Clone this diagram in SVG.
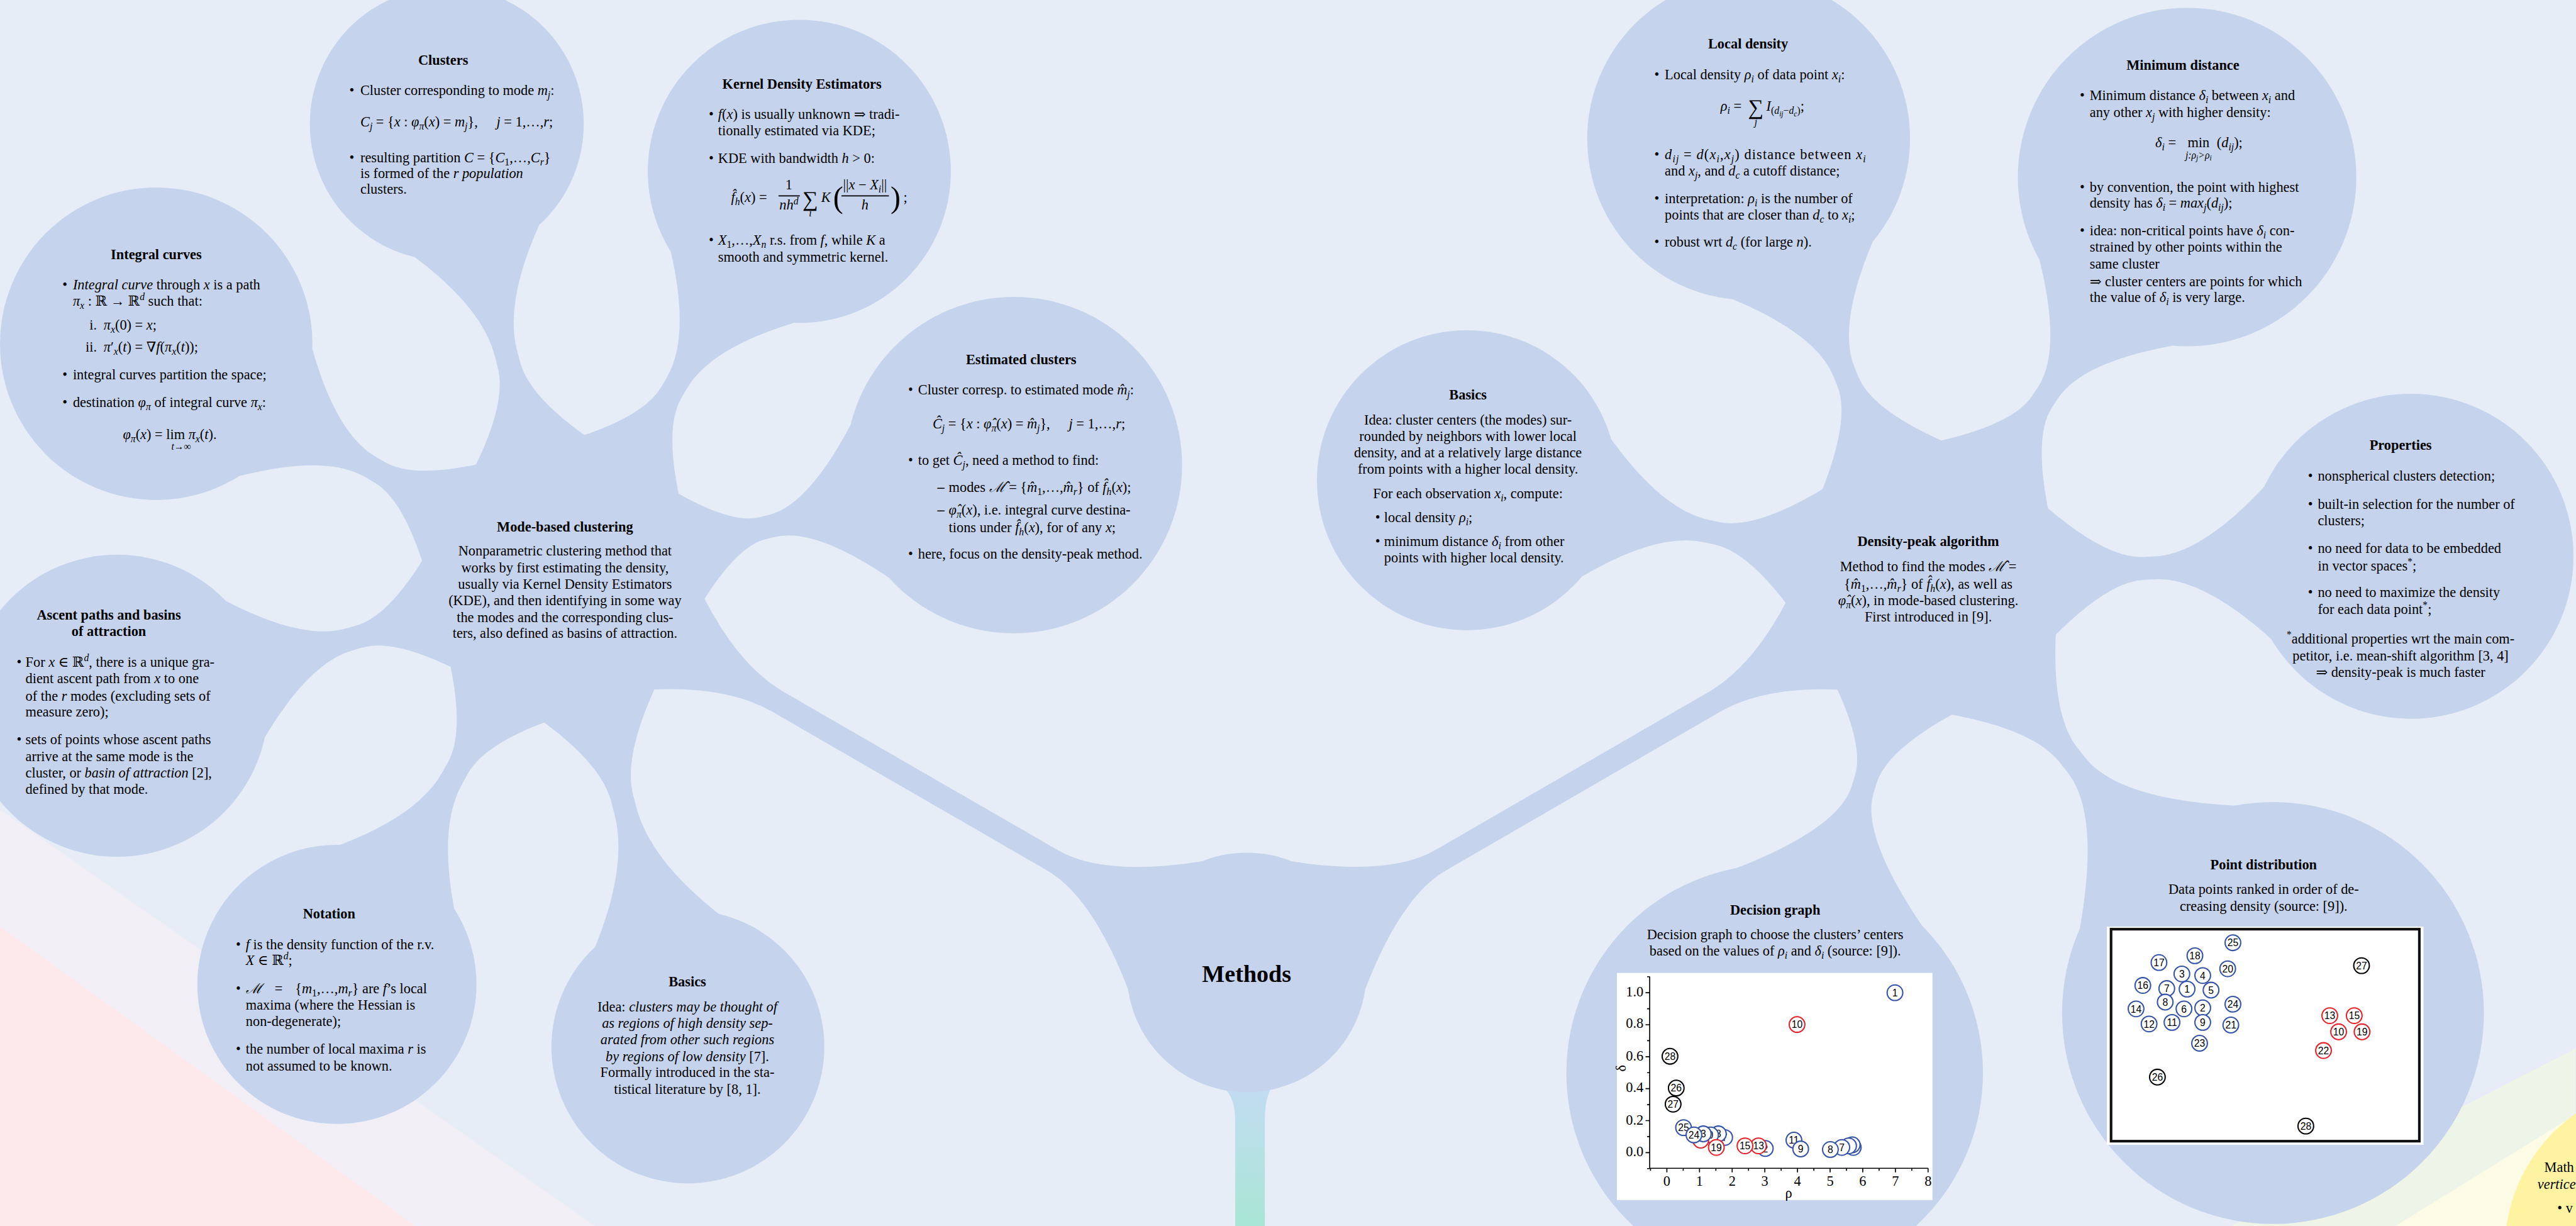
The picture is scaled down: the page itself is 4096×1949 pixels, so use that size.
<svg xmlns="http://www.w3.org/2000/svg" width="4096" height="1949" viewBox="0 0 4096 1949">
<defs>
<style>
.bg{fill:#e6edf7}
.nd{fill:#c5d4ec}
.cn{fill:#c5d4ec}
text{font-family:"Liberation Serif","DejaVu Serif",serif;font-size:27px;fill:#000}
.ttl{font-weight:bold}
.c{text-anchor:middle}
.e{text-anchor:end}
.i{font-style:italic}
.s{font-size:19px}
.ss{font-size:14px}
.ax{stroke:#000;stroke-width:2;fill:none}
.pb{fill:#fff;stroke:#3553a8;stroke-width:2.5}
.pr{fill:#fff;stroke:#e8202a;stroke-width:2.5}
.pk{fill:#fff;stroke:#000;stroke-width:2.5}
.nb{font-family:"Liberation Sans",Arial,sans-serif;font-size:19px;text-anchor:middle}
.tl{font-family:"Liberation Sans",Arial,sans-serif;font-size:20px}
</style>
<linearGradient id="stalk" x1="0" y1="0" x2="0" y2="1">
<stop offset="0" stop-color="#c3dbf2"/>
<stop offset="1" stop-color="#a9e6d5"/>
</linearGradient>
</defs>
<rect class="bg" x="0" y="0" width="4096" height="1949"/>
<g transform="scale(0.828)">
<g id="regions">
<polygon points="0,1554 1143,2354 0,2354" fill="#f1eef6"/>
<polygon points="0,1779 798,2354 0,2354" fill="#fde9ec"/>
<polygon points="4284,2354 4946,2013 4946,2354" fill="#eef4e8"/>
<polygon points="4600,2354 4946,2140 4946,2354" fill="#fcfbe6"/>
</g>
<g id="connectors">
<path class="cn" transform="translate(1083,1110) rotate(-104.47)" d="M200.9,157.1 Q339.2,22 423.4,22 L446.2,22 Q541.9,22 668.4,123.3 L668.4,-123.3 Q541.9,-22 446.2,-22 L423.4,-22 Q339.2,-22 200.9,-157.1Z"/>
<path class="cn" transform="translate(1083,1110) rotate(-59.94)" d="M200.9,157.1 Q333.4,22 411.8,22 L433.2,22 Q522.3,22 645.4,136.5 L645.4,-136.5 Q522.3,-22 433.2,-22 L411.8,-22 Q333.4,-22 200.9,-157.1Z"/>
<path class="cn" transform="translate(1083,1110) rotate(-150.12)" d="M200.9,157.1 Q331.6,22 408.2,22 L429.1,22 Q516.1,22 638.2,140.7 L638.2,-140.7 Q516.1,-22 429.1,-22 L408.2,-22 Q331.6,-22 200.9,-157.1Z"/>
<path class="cn" transform="translate(1083,1110) rotate(164.06)" d="M200.9,157.1 Q331.4,22 407.8,22 L428.7,22 Q515.5,22 636.2,136 L636.2,-136 Q515.5,-22 428.7,-22 L407.8,-22 Q331.4,-22 200.9,-157.1Z"/>
<path class="cn" transform="translate(1083,1110) rotate(119.2)" d="M200.9,157.1 Q336.5,22 418,22 L440.2,22 Q532.9,22 657,125.7 L657,-125.7 Q532.9,-22 440.2,-22 L418,-22 Q336.5,-22 200.9,-157.1Z"/>
<path class="cn" transform="translate(1083,1110) rotate(75.19)" d="M200.9,157.1 Q346.1,22 437.2,22 L461.9,22 Q565.4,22 699.6,122.9 L699.6,-122.9 Q565.4,-22 461.9,-22 L437.2,-22 Q346.1,-22 200.9,-157.1Z"/>
<path class="cn" transform="translate(1083,1110) rotate(-14.1)" d="M200.9,157.1 Q323.8,22 392.6,22 L411.4,22 Q489.6,22 605.6,151.5 L605.6,-151.5 Q489.6,-22 411.4,-22 L392.6,-22 Q323.8,-22 200.9,-157.1Z"/>
<path class="cn" transform="translate(2394,1867) rotate(-150)" d="M181.2,141.7 Q330,22 430,22 L1038.9,22 Q1148.9,22 1288.7,119.6 L1288.7,-119.6 Q1148.9,-22 1038.9,-22 L430,-22 Q330,-22 181.2,-141.7Z"/>
<path class="cn" transform="translate(2394,1867) rotate(-30.04)" d="M181.2,141.7 Q330,22 430,22 L1037.1,22 Q1147.1,22 1286.9,119.6 L1286.9,-119.6 Q1147.1,-22 1037.1,-22 L430,-22 Q330,-22 181.2,-141.7Z"/>
<path class="cn" transform="translate(3703,1110) rotate(-168.02)" d="M200.9,157.1 Q334.8,22 414.6,22 L436.3,22 Q527,22 651.4,135.1 L651.4,-135.1 Q527,-22 436.3,-22 L414.6,-22 Q334.8,-22 200.9,-157.1Z"/>
<path class="cn" transform="translate(3703,1110) rotate(-112.23)" d="M200.9,157.1 Q331.3,22 407.6,22 L428.4,22 Q515.1,22 638.1,145.4 L638.1,-145.4 Q515.1,-22 428.4,-22 L407.6,-22 Q331.3,-22 200.9,-157.1Z"/>
<path class="cn" transform="translate(3703,1110) rotate(-57.16)" d="M200.9,157.1 Q329,22 403,22 L423.3,22 Q507.4,22 629.5,152.4 L629.5,-152.4 Q507.4,-22 423.3,-22 L403,-22 Q329,-22 200.9,-157.1Z"/>
<path class="cn" transform="translate(3703,1110) rotate(-2.59)" d="M200.9,157.1 Q334.4,22 413.8,22 L435.4,22 Q525.7,22 652.5,146.3 L652.5,-146.3 Q525.7,-22 435.4,-22 L413.8,-22 Q334.4,-22 200.9,-157.1Z"/>
<path class="cn" transform="translate(3703,1110) rotate(51.59)" d="M200.9,157.1 Q344.2,22 433.4,22 L457.8,22 Q559.2,22 708,190 L708,-190 Q559.2,-22 457.8,-22 L433.4,-22 Q344.2,-22 200.9,-157.1Z"/>
<path class="cn" transform="translate(3703,1110) rotate(107.25)" d="M200.9,157.1 Q329.8,22 404.6,22 L424.8,22 Q509.8,22 641.6,187.6 L641.6,-187.6 Q509.8,-22 424.8,-22 L404.6,-22 Q329.8,-22 200.9,-157.1Z"/>
<path fill="url(#stalk)" d="M2372,2354 L2372,2150 Q2372,2100 2340,2080 L2448,2080 Q2429,2100 2429,2150 L2429,2354Z"/>
</g>

<g id="n-methods">
<circle class="nd" cx="2394" cy="1867" r="230"/>
<text class="c ttl" x="2394" y="1885" style="font-size:46px">Methods</text>
</g>

<g id="n-mode-based">
<circle class="nd" cx="1083" cy="1110" r="255"/>
<text class="ttl c" x="1085" y="1020">Mode-based clustering</text>
<text class="c" x="1085" y="1067">Nonparametric clustering method that</text>
<text class="c" x="1085" y="1099">works by first estimating the density,</text>
<text class="c" x="1085" y="1130">usually via Kernel Density Estimators</text>
<text class="c" x="1085" y="1162">(KDE), and then identifying in some way</text>
<text class="c" x="1085" y="1194">the modes and the corresponding clus-</text>
<text class="c" x="1085" y="1225">ters, also defined as basins of attraction.</text>
</g>

<g id="n-clusters">
<circle class="nd" cx="858" cy="238" r="263"/>
<text class="ttl c" x="851" y="124">Clusters</text>
<text x="671" y="182">•</text>
<text x="692" y="182">Cluster corresponding to mode <tspan class="i">m</tspan><tspan class="s i" dy="6">j</tspan><tspan dy="-6">:</tspan></text>
<text x="692" y="243"><tspan class="i">C</tspan><tspan class="s i" dy="6">j</tspan><tspan dy="-6"> = {</tspan><tspan class="i">x</tspan> : <tspan class="i">φ</tspan><tspan class="s i" dy="6">π</tspan><tspan dy="-6">(</tspan><tspan class="i">x</tspan>) = <tspan class="i">m</tspan><tspan class="s i" dy="6">j</tspan><tspan dy="-6">},</tspan><tspan dx="36" class="i">j</tspan> = 1,…,<tspan class="i">r</tspan>;</text>
<text x="671" y="312">•</text>
<text x="692" y="312">resulting partition <tspan class="i">C</tspan> = {<tspan class="i">C</tspan><tspan class="s" dy="6">1</tspan><tspan dy="-6">,…,</tspan><tspan class="i">C</tspan><tspan class="s i" dy="6">r</tspan><tspan dy="-6">}</tspan></text>
<text x="692" y="342">is formed of the <tspan class="i">r population</tspan></text>
<text x="692" y="372">clusters.</text>
</g>

<g id="n-kde">
<circle class="nd" cx="1535" cy="329" r="291"/>
<text class="ttl c" x="1540" y="170">Kernel Density Estimators</text>
<text x="1361" y="228">•</text>
<text x="1379" y="228"><tspan class="i">f</tspan>(<tspan class="i">x</tspan>) is usually unknown ⇒ tradi-</text>
<text x="1379" y="260">tionally estimated via KDE;</text>
<text x="1361" y="313">•</text>
<text x="1379" y="313">KDE with bandwidth <tspan class="i">h</tspan> &gt; 0:</text>
<text x="1404" y="388"><tspan class="i">f̂</tspan><tspan class="s i" dy="6">h</tspan><tspan dy="-6">(</tspan><tspan class="i">x</tspan>) =</text>
<text class="c" x="1515" y="364">1</text>
<path class="ax" d="M1495,376 H1536"/>
<text class="c" x="1515" y="402"><tspan class="i">nh</tspan><tspan class="s i" dy="-10">d</tspan></text>
<text class="c" x="1556" y="396" style="font-size:42px">∑</text>
<text class="c i s" x="1556" y="416">i</text>
<text class="i" x="1577" y="388">K</text>
<text x="1600" y="398" style="font-size:58px">(</text>
<text class="c" x="1661" y="364">||<tspan class="i">x</tspan> − <tspan class="i">X</tspan><tspan class="s i" dy="6">i</tspan><tspan dy="-6">||</tspan></text>
<path class="ax" d="M1616,376 H1707"/>
<text class="c i" x="1661" y="402">h</text>
<text x="1710" y="398" style="font-size:58px">)</text>
<text x="1735" y="388">;</text>
<text x="1361" y="470">•</text>
<text x="1379" y="470"><tspan class="i">X</tspan><tspan class="s" dy="6">1</tspan><tspan dy="-6">,…,</tspan><tspan class="i">X</tspan><tspan class="s i" dy="6">n</tspan><tspan dy="-6"> r.s. from </tspan><tspan class="i">f</tspan>, while <tspan class="i">K</tspan> a</text>
<text x="1379" y="502">smooth and symmetric kernel.</text>
</g>

<g id="n-integral">
<circle class="nd" cx="300" cy="660" r="300"/>
<text class="ttl c" x="300" y="497">Integral curves</text>
<text x="120" y="555">•</text>
<text x="140" y="555"><tspan class="i">Integral curve</tspan> through <tspan class="i">x</tspan> is a path</text>
<text x="140" y="587"><tspan class="i">π</tspan><tspan class="s i" dy="6">x</tspan><tspan dy="-6"> : ℝ → ℝ</tspan><tspan class="s i" dy="-11">d</tspan><tspan dy="11"> such that:</tspan></text>
<text class="e" x="186" y="633">i.</text>
<text x="199" y="633"><tspan class="i">π</tspan><tspan class="s i" dy="6">x</tspan><tspan dy="-6">(0) = </tspan><tspan class="i">x</tspan>;</text>
<text class="e" x="186" y="675">ii.</text>
<text x="199" y="675"><tspan class="i">π</tspan>′<tspan class="s i" dy="6">x</tspan><tspan dy="-6">(</tspan><tspan class="i">t</tspan>) = ∇<tspan class="i">f</tspan>(<tspan class="i">π</tspan><tspan class="s i" dy="6">x</tspan><tspan dy="-6">(</tspan><tspan class="i">t</tspan>));</text>
<text x="120" y="728">•</text>
<text x="140" y="728">integral curves partition the space;</text>
<text x="120" y="782">•</text>
<text x="140" y="782">destination <tspan class="i">φ</tspan><tspan class="s i" dy="6">π</tspan><tspan dy="-6"> of integral curve </tspan><tspan class="i">π</tspan><tspan class="s i" dy="6">x</tspan><tspan dy="-6">:</tspan></text>
<text x="236" y="843"><tspan class="i">φ</tspan><tspan class="s i" dy="6">π</tspan><tspan dy="-6">(</tspan><tspan class="i">x</tspan>) = lim <tspan class="i">π</tspan><tspan class="s i" dy="6">x</tspan><tspan dy="-6">(</tspan><tspan class="i">t</tspan>).</text>
<text class="c s" x="348" y="864"><tspan class="i">t</tspan>→∞</text>
</g>

<g id="n-ascent">
<circle class="nd" cx="225" cy="1355" r="290"/>
<text class="ttl c" x="209" y="1190">Ascent paths and basins</text>
<text class="ttl c" x="209" y="1221">of attraction</text>
<text x="32" y="1280">•</text>
<text x="49" y="1280">For <tspan class="i">x</tspan> ∈ ℝ<tspan class="s i" dy="-11">d</tspan><tspan dy="11">, there is a unique gra-</tspan></text>
<text x="49" y="1312">dient ascent path from <tspan class="i">x</tspan> to one</text>
<text x="49" y="1345">of the <tspan class="i">r</tspan> modes (excluding sets of</text>
<text x="49" y="1376">measure zero);</text>
<text x="32" y="1429">•</text>
<text x="49" y="1429">sets of points whose ascent paths</text>
<text x="49" y="1461">arrive at the same mode is the</text>
<text x="49" y="1493">cluster, or <tspan class="i">basin of attraction</tspan> [2],</text>
<text x="49" y="1524">defined by that mode.</text>
</g>

<g id="n-notation">
<circle class="nd" cx="647" cy="1890" r="268"/>
<text class="ttl c" x="632" y="1763">Notation</text>
<text x="453" y="1822">•</text>
<text x="472" y="1822"><tspan class="i">f</tspan> is the density function of the r.v.</text>
<text x="472" y="1853"><tspan class="i">X</tspan> ∈ ℝ<tspan class="s i" dy="-11">d</tspan><tspan dy="11">;</tspan></text>
<text x="453" y="1907">•</text>
<text x="472" y="1907"><tspan class="i">ℳ</tspan><tspan dx="24">=</tspan><tspan dx="24">{</tspan><tspan class="i">m</tspan><tspan class="s" dy="6">1</tspan><tspan dy="-6">,…,</tspan><tspan class="i">m</tspan><tspan class="s i" dy="6">r</tspan><tspan dy="-6">} are </tspan><tspan class="i">f</tspan>’s local</text>
<text x="472" y="1938">maxima (where the Hessian is</text>
<text x="472" y="1970">non-degenerate);</text>
<text x="453" y="2023">•</text>
<text x="472" y="2023">the number of local maxima <tspan class="i">r</tspan> is</text>
<text x="472" y="2055">not assumed to be known.</text>
</g>

<g id="n-basics-left">
<circle class="nd" cx="1321" cy="2010" r="262"/>
<text class="ttl c" x="1320" y="1894">Basics</text>
<text class="c" x="1320" y="1942">Idea: <tspan class="i">clusters may be thought of</tspan></text>
<text class="c i" x="1320" y="1973">as regions of high density sep-</text>
<text class="c i" x="1320" y="2005">arated from other such regions</text>
<text class="c" x="1320" y="2037"><tspan class="i">by regions of low density</tspan> [7].</text>
<text class="c" x="1320" y="2068">Formally introduced in the sta-</text>
<text class="c" x="1320" y="2100">tistical literature by [8, 1].</text>
</g>

<g id="n-estimated">
<circle class="nd" cx="1947" cy="893" r="323"/>
<text class="ttl c" x="1961" y="699">Estimated clusters</text>
<text x="1744" y="757">•</text>
<text x="1763" y="757">Cluster corresp. to estimated mode <tspan class="i">m̂</tspan><tspan class="s i" dy="6">j</tspan><tspan dy="-6">:</tspan></text>
<text x="1791" y="822"><tspan class="i">Ĉ</tspan><tspan class="s i" dy="6">j</tspan><tspan dy="-6"> = {</tspan><tspan class="i">x</tspan> : <tspan class="i">φ̂</tspan><tspan class="s i" dy="6">π</tspan><tspan dy="-6">(</tspan><tspan class="i">x</tspan>) = <tspan class="i">m̂</tspan><tspan class="s i" dy="6">j</tspan><tspan dy="-6">},</tspan><tspan dx="36" class="i">j</tspan> = 1,…,<tspan class="i">r</tspan>;</text>
<text x="1744" y="893">•</text>
<text x="1763" y="893">to get <tspan class="i">Ĉ</tspan><tspan class="s i" dy="6">j</tspan><tspan dy="-6">, need a method to find:</tspan></text>
<text x="1800" y="944" class="ttl">–</text>
<text x="1822" y="944">modes <tspan class="i">ℳ̂</tspan> = {<tspan class="i">m̂</tspan><tspan class="s" dy="6">1</tspan><tspan dy="-6">,…,</tspan><tspan class="i">m̂</tspan><tspan class="s i" dy="6">r</tspan><tspan dy="-6">} of </tspan><tspan class="i">f̂</tspan><tspan class="s i" dy="6">h</tspan><tspan dy="-6">(</tspan><tspan class="i">x</tspan>);</text>
<text x="1800" y="988" class="ttl">–</text>
<text x="1822" y="988"><tspan class="i">φ̂</tspan><tspan class="s i" dy="6">π</tspan><tspan dy="-6">(</tspan><tspan class="i">x</tspan>), i.e. integral curve destina-</text>
<text x="1822" y="1022">tions under <tspan class="i">f̂</tspan><tspan class="s i" dy="6">h</tspan><tspan dy="-6">(</tspan><tspan class="i">x</tspan>), for of any <tspan class="i">x</tspan>;</text>
<text x="1744" y="1073">•</text>
<text x="1763" y="1073">here, focus on the density-peak method.</text>
</g>

<g id="n-density-peak">
<circle class="nd" cx="3703" cy="1110" r="255"/>
<text class="ttl c" x="3703" y="1048">Density-peak algorithm</text>
<text class="c" x="3703" y="1097">Method to find the modes <tspan class="i">ℳ̂</tspan> =</text>
<text class="c" x="3703" y="1130">{<tspan class="i">m̂</tspan><tspan class="s" dy="6">1</tspan><tspan dy="-6">,…,</tspan><tspan class="i">m̂</tspan><tspan class="s i" dy="6">r</tspan><tspan dy="-6">} of </tspan><tspan class="i">f̂</tspan><tspan class="s i" dy="6">h</tspan><tspan dy="-6">(</tspan><tspan class="i">x</tspan>), as well as</text>
<text class="c" x="3703" y="1162"><tspan class="i">φ̂</tspan><tspan class="s i" dy="6">π</tspan><tspan dy="-6">(</tspan><tspan class="i">x</tspan>), in mode-based clustering.</text>
<text class="c" x="3703" y="1193">First introduced in [9].</text>
</g>

<g id="n-basics-right">
<circle class="nd" cx="2817" cy="922" r="288"/>
<text class="ttl c" x="2819" y="767">Basics</text>
<text class="c" x="2819" y="815">Idea: cluster centers (the modes) sur-</text>
<text class="c" x="2819" y="847">rounded by neighbors with lower local</text>
<text class="c" x="2819" y="878">density, and at a relatively large distance</text>
<text class="c" x="2819" y="910">from points with a higher local density.</text>
<text class="c" x="2819" y="957">For each observation <tspan class="i">x</tspan><tspan class="s i" dy="6">i</tspan><tspan dy="-6">, compute:</tspan></text>
<text x="2641" y="1003">•</text>
<text x="2658" y="1003">local density <tspan class="i">ρ</tspan><tspan class="s i" dy="6">i</tspan><tspan dy="-6">;</tspan></text>
<text x="2641" y="1048">•</text>
<text x="2658" y="1048">minimum distance <tspan class="i">δ</tspan><tspan class="s i" dy="6">i</tspan><tspan dy="-6"> from other</tspan></text>
<text x="2658" y="1080">points with higher local density.</text>
</g>

<g id="n-local-density">
<circle class="nd" cx="3358" cy="266" r="310"/>
<text class="ttl c" x="3357" y="93">Local density</text>
<text x="3177" y="152">•</text>
<text x="3197" y="152">Local density <tspan class="i">ρ</tspan><tspan class="s i" dy="6">i</tspan><tspan dy="-6"> of data point </tspan><tspan class="i">x</tspan><tspan class="s i" dy="6">i</tspan><tspan dy="-6">:</tspan></text>
<text x="3304" y="212"><tspan class="i">ρ</tspan><tspan class="s i" dy="6">i</tspan><tspan dy="-6"> =</tspan></text>
<text class="c" x="3372" y="220" style="font-size:42px">∑</text>
<text class="c i s" x="3372" y="240">j</text>
<text x="3392" y="212"><tspan class="i">I</tspan><tspan class="s" dy="7">(</tspan><tspan class="s i">d</tspan><tspan class="ss i" dy="4">ij</tspan><tspan class="s" dy="-4">−</tspan><tspan class="s i">d</tspan><tspan class="ss i" dy="4">c</tspan><tspan class="s" dy="-4">)</tspan><tspan dy="-7">;</tspan></text>
<text x="3177" y="305">•</text>
<text x="3197" y="305" textLength="386" lengthAdjust="spacing"><tspan class="i">d</tspan><tspan class="s i" dy="6">ij</tspan><tspan dy="-6"> = </tspan><tspan class="i">d</tspan>(<tspan class="i">x</tspan><tspan class="s i" dy="6">i</tspan><tspan dy="-6">,</tspan><tspan class="i">x</tspan><tspan class="s i" dy="6">j</tspan><tspan dy="-6">) distance between </tspan><tspan class="i">x</tspan><tspan class="s i" dy="6">i</tspan></text>
<text x="3197" y="337">and <tspan class="i">x</tspan><tspan class="s i" dy="6">j</tspan><tspan dy="-6">, and </tspan><tspan class="i">d</tspan><tspan class="s i" dy="6">c</tspan><tspan dy="-6"> a cutoff distance;</tspan></text>
<text x="3177" y="390">•</text>
<text x="3197" y="390">interpretation: <tspan class="i">ρ</tspan><tspan class="s i" dy="6">i</tspan><tspan dy="-6"> is the number of</tspan></text>
<text x="3197" y="421">points that are closer than <tspan class="i">d</tspan><tspan class="s i" dy="6">c</tspan><tspan dy="-6"> to </tspan><tspan class="i">x</tspan><tspan class="s i" dy="6">i</tspan><tspan dy="-6">;</tspan></text>
<text x="3177" y="474">•</text>
<text x="3197" y="474">robust wrt <tspan class="i">d</tspan><tspan class="s i" dy="6">c</tspan><tspan dy="-6"> (for large </tspan><tspan class="i">n</tspan>).</text>
</g>

<g id="n-min-distance">
<circle class="nd" cx="4200" cy="340" r="325"/>
<text class="ttl c" x="4192" y="134">Minimum distance</text>
<text x="3994" y="192">•</text>
<text x="4013" y="192">Minimum distance <tspan class="i">δ</tspan><tspan class="s i" dy="6">i</tspan><tspan dy="-6"> between </tspan><tspan class="i">x</tspan><tspan class="s i" dy="6">i</tspan><tspan dy="-6"> and</tspan></text>
<text x="4013" y="225">any other <tspan class="i">x</tspan><tspan class="s i" dy="6">j</tspan><tspan dy="-6"> with higher density:</tspan></text>
<text x="4139" y="283"><tspan class="i">δ</tspan><tspan class="s i" dy="6">i</tspan><tspan dy="-6"> =</tspan></text>
<text class="c" x="4222" y="283">min</text>
<text class="c s i" x="4222" y="304">j:ρ<tspan class="ss" dy="4">j</tspan><tspan dy="-4">&gt;ρ</tspan><tspan class="ss" dy="4">i</tspan></text>
<text x="4257" y="283">(<tspan class="i">d</tspan><tspan class="s i" dy="6">ij</tspan><tspan dy="-6">);</tspan></text>
<text x="3994" y="368">•</text>
<text x="4013" y="368">by convention, the point with highest</text>
<text x="4013" y="399">density has <tspan class="i">δ</tspan><tspan class="s i" dy="6">i</tspan><tspan dy="-6"> = </tspan><tspan class="i">max</tspan><tspan class="s i" dy="6">j</tspan><tspan dy="-6">(</tspan><tspan class="i">d</tspan><tspan class="s i" dy="6">ij</tspan><tspan dy="-6">);</tspan></text>
<text x="3994" y="452">•</text>
<text x="4013" y="452">idea: non-critical points have <tspan class="i">δ</tspan><tspan class="s i" dy="6">i</tspan><tspan dy="-6"> con-</tspan></text>
<text x="4013" y="483">strained by other points within the</text>
<text x="4013" y="516">same cluster</text>
<text x="4013" y="549">⇒ cluster centers are points for which</text>
<text x="4013" y="580">the value of <tspan class="i">δ</tspan><tspan class="s i" dy="6">i</tspan><tspan dy="-6"> is very large.</tspan></text>
</g>

<g id="n-properties">
<circle class="nd" cx="4630" cy="1068" r="312"/>
<text class="ttl c" x="4610" y="864">Properties</text>
<text x="4432" y="923">•</text>
<text x="4451" y="923">nonspherical clusters detection;</text>
<text x="4432" y="977">•</text>
<text x="4451" y="977">built-in selection for the number of</text>
<text x="4451" y="1009">clusters;</text>
<text x="4432" y="1062">•</text>
<text x="4451" y="1062">no need for data to be embedded</text>
<text x="4451" y="1095">in vector spaces<tspan class="s" dy="-11">*</tspan><tspan dy="11">;</tspan></text>
<text x="4432" y="1146">•</text>
<text x="4451" y="1146">no need to maximize the density</text>
<text x="4451" y="1179">for each data point<tspan class="s" dy="-11">*</tspan><tspan dy="11">;</tspan></text>
<text class="c" x="4610" y="1236"><tspan class="s" dy="-11">*</tspan><tspan dy="11">additional properties wrt the main com-</tspan></text>
<text class="c" x="4610" y="1268">petitor, i.e. mean-shift algorithm [3, 4]</text>
<text class="c" x="4610" y="1300">⇒ density-peak is much faster</text>
</g>

<g id="n-decision-graph">
<circle class="nd" cx="3408" cy="2060" r="400"/>
<text class="ttl c" x="3409" y="1756">Decision graph</text>
<text class="c" x="3409" y="1803">Decision graph to choose the clusters’ centers</text>
<text class="c" x="3409" y="1835">based on the values of <tspan class="i">ρ</tspan><tspan class="s i" dy="6">i</tspan><tspan dy="-6"> and </tspan><tspan class="i">δ</tspan><tspan class="s i" dy="6">i</tspan><tspan dy="-6"> (source: [9]).</tspan></text>
<rect x="3105" y="1868" width="606" height="436" fill="#fff"/>
<path class="ax" d="M3168,1875 V2243 H3703"/>
<path class="ax" d="M3201,2243v8M3263.7,2243v8M3326.4,2243v8M3389.1,2243v8M3451.8,2243v8M3514.5,2243v8M3577.2,2243v8M3639.9,2243v8M3702.6,2243v8M3169.6,2243v5M3232.4,2243v5M3295.1,2243v5M3357.8,2243v5M3420.5,2243v5M3483.2,2243v5M3545.9,2243v5M3608.6,2243v5M3671.3,2243v5"/>
<path class="ax" d="M3168,2213h-8M3168,2151.6h-8M3168,2090.2h-8M3168,2028.8h-8M3168,1967.4h-8M3168,1906h-8M3168,2243.7h-5M3168,2182.3h-5M3168,2120.9h-5M3168,2059.5h-5M3168,1998.1h-5M3168,1936.7h-5M3168,1875.3h-5"/>
<g class="tl">
<text x="3201" y="2277" text-anchor="middle">0</text>
<text x="3263.7" y="2277" text-anchor="middle">1</text>
<text x="3326.4" y="2277" text-anchor="middle">2</text>
<text x="3389.1" y="2277" text-anchor="middle">3</text>
<text x="3451.8" y="2277" text-anchor="middle">4</text>
<text x="3514.5" y="2277" text-anchor="middle">5</text>
<text x="3577.2" y="2277" text-anchor="middle">6</text>
<text x="3639.9" y="2277" text-anchor="middle">7</text>
<text x="3702.6" y="2277" text-anchor="middle">8</text>
<text x="3156" y="2220" text-anchor="end">0.0</text>
<text x="3156" y="2159" text-anchor="end">0.2</text>
<text x="3156" y="2097" text-anchor="end">0.4</text>
<text x="3156" y="2036" text-anchor="end">0.6</text>
<text x="3156" y="1974" text-anchor="end">0.8</text>
<text x="3156" y="1913" text-anchor="end">1.0</text>
<text x="3435" y="2300" text-anchor="middle">ρ</text>
<text x="3122" y="2051" text-anchor="middle" transform="rotate(-90 3122 2051)">δ</text>
</g>
<g>
<circle class="pb" cx="3639" cy="1906" r="15"/><text class="nb" x="3639" y="1913">1</text>
<circle class="pr" cx="3451" cy="1967" r="15"/><text class="nb" x="3451" y="1974">10</text>
<circle class="pk" cx="3207" cy="2028" r="15"/><text class="nb" x="3207" y="2035">28</text>
<circle class="pk" cx="3219" cy="2089" r="15"/><text class="nb" x="3219" y="2096">26</text>
<circle class="pk" cx="3213" cy="2120" r="15"/><text class="nb" x="3213" y="2127">27</text>
<circle class="pb" cx="3233" cy="2165" r="15"/><text class="nb" x="3233" y="2172">25</text>
<circle class="pb" cx="3312" cy="2184" r="15"/><text class="nb" x="3312" y="2191">7</text>
<circle class="pb" cx="3300" cy="2177" r="15"/><text class="nb" x="3300" y="2184">8</text>
<circle class="pb" cx="3285" cy="2179" r="15"/><text class="nb" x="3285" y="2186">0</text>
<circle class="pr" cx="3266" cy="2189" r="15"/>
<circle class="pb" cx="3271" cy="2177" r="15"/><text class="nb" x="3271" y="2184">3</text>
<circle class="pb" cx="3253" cy="2179" r="15"/><text class="nb" x="3253" y="2186">24</text>
<circle class="pr" cx="3296" cy="2203" r="15"/><text class="nb" x="3296" y="2210">19</text>
<circle class="pb" cx="3390" cy="2205" r="15"/><text class="nb" x="3390" y="2212">2</text>
<circle class="pr" cx="3377" cy="2200" r="15"/><text class="nb" x="3377" y="2207">13</text>
<circle class="pr" cx="3351" cy="2200" r="15"/><text class="nb" x="3351" y="2207">15</text>
<circle class="pb" cx="3445" cy="2189" r="15"/><text class="nb" x="3445" y="2196">11</text>
<circle class="pb" cx="3458" cy="2206" r="15"/><text class="nb" x="3458" y="2213">9</text>
<circle class="pb" cx="3559" cy="2203" r="15"/>
<circle class="pb" cx="3557" cy="2198" r="15"/>
<circle class="pb" cx="3550" cy="2200" r="15"/>
<circle class="pb" cx="3537" cy="2203" r="15"/><text class="nb" x="3537" y="2210">7</text>
<circle class="pb" cx="3515" cy="2207" r="15"/><text class="nb" x="3515" y="2214">8</text>
</g>
</g>

<g id="n-point-distribution">
<circle class="nd" cx="4365" cy="1945" r="405"/>
<text class="ttl c" x="4347" y="1669">Point distribution</text>
<text class="c" x="4347" y="1716">Data points ranked in order of de-</text>
<text class="c" x="4347" y="1749">creasing density (source: [9]).</text>
<rect x="4046" y="1779" width="608" height="419" fill="#fff"/>
<rect x="4054" y="1784" width="592" height="407" fill="none" stroke="#111" stroke-width="5"/>
<g>
<circle class="pb" cx="4288" cy="1810" r="15"/><text class="nb" x="4288" y="1817">25</text>
<circle class="pb" cx="4215" cy="1835" r="15"/><text class="nb" x="4215" y="1842">18</text>
<circle class="pb" cx="4146" cy="1848" r="15"/><text class="nb" x="4146" y="1855">17</text>
<circle class="pk" cx="4535" cy="1854" r="15"/><text class="nb" x="4535" y="1861">27</text>
<circle class="pb" cx="4278" cy="1860" r="15"/><text class="nb" x="4278" y="1867">20</text>
<circle class="pb" cx="4190" cy="1870" r="15"/><text class="nb" x="4190" y="1877">3</text>
<circle class="pb" cx="4230" cy="1873" r="15"/><text class="nb" x="4230" y="1880">4</text>
<circle class="pb" cx="4115" cy="1892" r="15"/><text class="nb" x="4115" y="1899">16</text>
<circle class="pb" cx="4161" cy="1898" r="15"/><text class="nb" x="4161" y="1905">7</text>
<circle class="pb" cx="4200" cy="1899" r="15"/><text class="nb" x="4200" y="1906">1</text>
<circle class="pb" cx="4246" cy="1901" r="15"/><text class="nb" x="4246" y="1908">5</text>
<circle class="pb" cx="4158" cy="1924" r="15"/><text class="nb" x="4158" y="1931">8</text>
<circle class="pb" cx="4288" cy="1928" r="15"/><text class="nb" x="4288" y="1935">24</text>
<circle class="pb" cx="4102" cy="1937" r="15"/><text class="nb" x="4102" y="1944">14</text>
<circle class="pb" cx="4194" cy="1937" r="15"/><text class="nb" x="4194" y="1944">6</text>
<circle class="pb" cx="4230" cy="1935" r="15"/><text class="nb" x="4230" y="1942">2</text>
<circle class="pr" cx="4474" cy="1950" r="15"/><text class="nb" x="4474" y="1957">13</text>
<circle class="pr" cx="4521" cy="1950" r="15"/><text class="nb" x="4521" y="1957">15</text>
<circle class="pb" cx="4127" cy="1966" r="15"/><text class="nb" x="4127" y="1973">12</text>
<circle class="pb" cx="4171" cy="1963" r="15"/><text class="nb" x="4171" y="1970">11</text>
<circle class="pb" cx="4230" cy="1963" r="15"/><text class="nb" x="4230" y="1970">9</text>
<circle class="pb" cx="4284" cy="1968" r="15"/><text class="nb" x="4284" y="1975">21</text>
<circle class="pr" cx="4491" cy="1981" r="15"/><text class="nb" x="4491" y="1988">10</text>
<circle class="pr" cx="4536" cy="1981" r="15"/><text class="nb" x="4536" y="1988">19</text>
<circle class="pb" cx="4224" cy="2003" r="15"/><text class="nb" x="4224" y="2010">23</text>
<circle class="pr" cx="4462" cy="2017" r="15"/><text class="nb" x="4462" y="2024">22</text>
<circle class="pk" cx="4143" cy="2068" r="15"/><text class="nb" x="4143" y="2075">26</text>
<circle class="pk" cx="4428" cy="2162" r="15"/><text class="nb" x="4428" y="2169">28</text>
</g>
</g>

<g id="n-corner">
<circle cx="5130" cy="2400" r="320" fill="#fef3a0"/>
<text x="4886" y="2250">Math</text>
<text class="i" x="4873" y="2283">vertice</text>
<text x="4911" y="2328">• v</text>
</g>
</g>
</svg>
